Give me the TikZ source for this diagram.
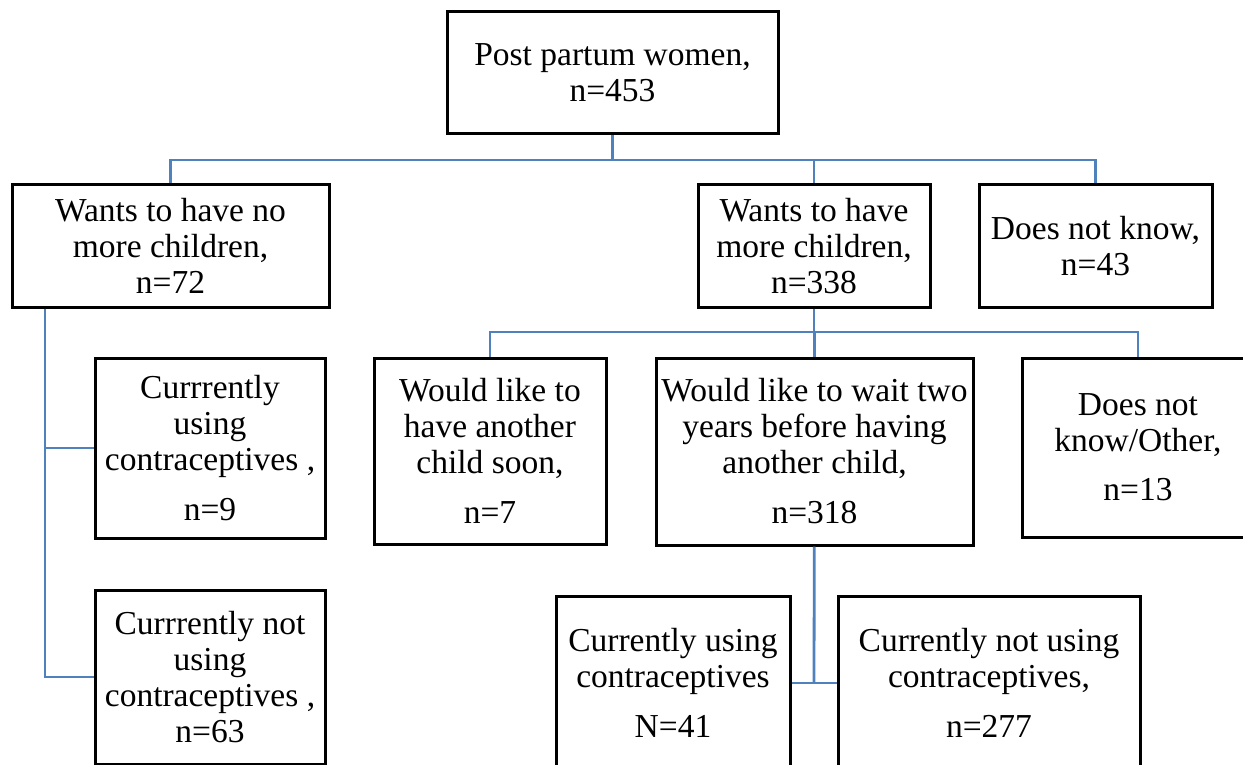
\documentclass[tikz,border=0pt]{standalone}
\usepackage{fontspec}
\setmainfont{Liberation Serif}
\usepackage{tikz}

\definecolor{linkblue}{RGB}{79,129,189}

\begin{document}
\begin{tikzpicture}[x=1pt, y=-1pt,
    box/.style = {draw, line width=3pt, inner sep=0pt, align=center,
                  font=\fontsize{33.5}{36}\selectfont},
    link/.style = {draw=linkblue, line width=2.8pt}]
    \clip (0,0) rectangle (1243,765);
    \useasboundingbox (0,0) rectangle (1243,765);
    \node[box, minimum width=331pt, minimum height=122pt] (1) at (612.5,73) {Post partum women,\\n=453};
    \node[box, minimum width=317pt, minimum height=122pt] (2) at (170.5,246) {Wants to have no\\more children,\\n=72};
    \node[box, minimum width=232pt, minimum height=122pt] (3) at (814,246) {Wants to have\\more children,\\n=338};
    \node[box, minimum width=233pt, minimum height=122pt] (4) at (1095.5,246) {Does not know,\\n=43};
    \node[box, minimum width=230pt, minimum height=180pt] (5) at (210,448) {Currrently\\using\\contraceptives ,\\[14pt]n=9};
    \node[box, minimum width=230pt, minimum height=174pt] (6) at (210,677) {Currrently not\\using\\contraceptives ,\\n=63};
    \node[box, minimum width=232pt, minimum height=186pt] (7) at (490,451) {Would like to\\have another\\child soon,\\[14pt]n=7};
    \node[box, minimum width=317pt, minimum height=187pt] (8) at (814.5,451.5) {Would like to wait two\\years before having\\another child,\\[14pt]n=318};
    \node[box, minimum width=232pt, minimum height=179pt] (11) at (1138,447.5) {Does not\\know/Other,\\[13pt]n=13};
    \node[box, minimum width=234pt, minimum height=174pt] (9) at (673,683) {Currently using\\contraceptives\\[14pt]N=41};
    \node[box, minimum width=302pt, minimum height=174pt] (10) at (989,683) {Currently not using\\contraceptives,\\[14pt]n=277};
    \coordinate (b1) at (612.5,160);
    \coordinate (b2) at (814,332);
    \coordinate (s) at (45,0 |- 2.south);
    \coordinate (j) at (814,683);
    \draw[link] (1) -- (b1);
    \draw[link] (b1) -| (2);
    \draw[link] (b1) -| (3);
    \draw[link] (b1) -| (4);
    \draw[link] (3) -- (b2);
    \draw[link] (b2) -| (7);
    \draw[link] (b2) -| (8);
    \draw[link] (b2) -| (11);
    \draw[link] (s) |- (5);
    \draw[link] (s) |- (6);
    \draw[link] (8) -- (j);
    \draw[link] (9) -- (j);
    \draw[link] (j) -- (10);
\end{tikzpicture}
\end{document}
